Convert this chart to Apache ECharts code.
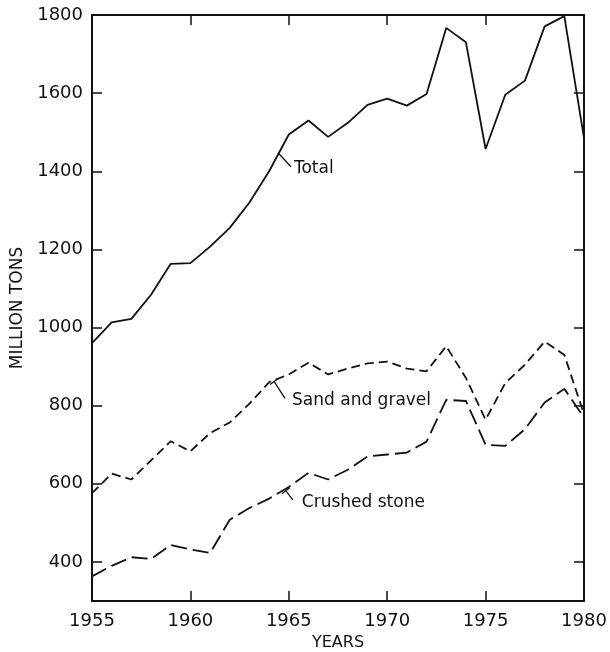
<!DOCTYPE html>
<html>
<head>
<meta charset="utf-8">
<script src="https://cdn.jsdelivr.net/npm/echarts@6/dist/echarts.min.js"></script>
<style>
    html,body{margin:0;padding:0;background:#fff;}
    #main{width:610px;height:652px;}
</style>
</head>
<body>
<div id="main"></div>
<script>
var years = [1955,1956,1957,1958,1959,1960,1961,1962,1963,1964,1965,1966,1967,
             1968,1969,1970,1971,1972,1973,1974,1975,1976,1977,1978,1979,1980];
var total = [960,1013,1022,1084,1163,1165,1207,1255,1320,1400,1494,1530,1488,
             1524,1570,1586,1568,1598,1767,1730,1457,1596,1632,1771,1797,1485];
var sandGravel = [576,626,611,660,709,683,730,757,805,860,880,910,880,
                  895,908,913,895,888,952,871,764,858,905,964,930,778];
var crushedStone = [363,390,412,408,443,432,423,508,538,562,592,628,611,
                    636,670,675,680,708,815,812,700,697,740,808,843,770];
var yTicks = [400,600,800,1000,1200,1400,1600,1800];

// callouts: name, anchor year, anchor value on its line
var calloutNames = ["Total","Sand and gravel","Crushed stone"];
var calloutYears = [1964.5,1964.25,1964.85];
var calloutValues = [1445,862,582];

var FONT = "DejaVu Sans";
var INK = "#111";

function pairs(arr){
    var out = [];
    for(var i=0;i<years.length;i++){ out.push([years[i],arr[i]]); }
    return out;
}

var mychart = echarts.init(document.getElementById("main"));

var xBase = {
    type:"value", min:1955, max:1980, interval:5,
    axisLine:{show:true, onZero:false, lineStyle:{color:INK, width:2}},
    axisTick:{show:true, inside:true, length:10, lineStyle:{color:INK, width:1.5}},
    splitLine:{show:false}
};
var yBase = {
    type:"value", min:300, max:1800,
    axisLine:{show:true, onZero:false, lineStyle:{color:INK, width:2}},
    axisTick:{show:true, inside:true, length:10, customValues:yTicks, lineStyle:{color:INK, width:1.5}},
    splitLine:{show:false}
};

mychart.setOption({
    animation:false,
    backgroundColor:"#fff",
    grid:{left:92, right:26, top:15, bottom:51, outerBoundsMode:"none", containLabel:false},
    xAxis:[
        Object.assign({}, xBase, {
            position:"bottom",
            name:"YEARS", nameLocation:"middle", nameGap:34,
            nameTextStyle:{fontFamily:FONT, fontSize:16, color:INK},
            axisLabel:{show:true, margin:11, fontFamily:FONT, fontSize:18, color:INK,
                formatter:function(v){ return String(v); }}
        }),
        Object.assign({}, xBase, {position:"top", axisLabel:{show:false}})
    ],
    yAxis:[
        Object.assign({}, yBase, {
            position:"left",
            name:"MILLION TONS", nameLocation:"middle", nameGap:56,
            nameTextStyle:{fontFamily:FONT, fontSize:17, color:INK},
            axisLabel:{show:true, margin:9, customValues:yTicks, fontFamily:FONT, fontSize:18, color:INK,
                formatter:function(v){ return String(v); }}
        }),
        Object.assign({}, yBase, {position:"right", axisLabel:{show:false}})
    ],
    series:[
        {
            name:"Total", type:"line", data:pairs(total),
            xAxisIndex:0, yAxisIndex:0, symbol:"none", silent:true,
            lineStyle:{color:INK, width:1.8}
        },
        {
            name:"Sand and gravel", type:"line", data:pairs(sandGravel),
            xAxisIndex:0, yAxisIndex:0, symbol:"none", silent:true,
            lineStyle:{color:INK, width:1.8, type:[9,5]}
        },
        {
            name:"Crushed stone", type:"line", data:pairs(crushedStone),
            xAxisIndex:0, yAxisIndex:0, symbol:"none", silent:true,
            lineStyle:{color:INK, width:1.8, type:[16,6]}
        }
    ]
});

// callout pointers and texts, placed from data coords
var pointerEnd = [[12,13],[11,17],[7,9]];
var textAt = [[15,15],[18,19],[16,12]];
var graphics = [];
for(var i=0;i<calloutNames.length;i++){
    var p = mychart.convertToPixel({seriesIndex:0}, [calloutYears[i], calloutValues[i]]);
    graphics.push({
        type:"line", silent:true,
        shape:{x1:p[0], y1:p[1], x2:p[0]+pointerEnd[i][0], y2:p[1]+pointerEnd[i][1]},
        style:{stroke:INK, lineWidth:1.3}
    });
    if(i>0){
        // little bar where the pointer meets a dashed line
        graphics.push({
            type:"line", silent:true,
            shape:{x1:p[0]-4, y1:p[1]+3, x2:p[0]+4, y2:p[1]-3},
            style:{stroke:INK, lineWidth:1.3}
        });
    }
    graphics.push({
        type:"text", silent:true,
        x:p[0]+textAt[i][0], y:p[1]+textAt[i][1],
        style:{text:calloutNames[i], font:"17px '"+FONT+"'", fill:INK,
               textAlign:"left", textVerticalAlign:"middle"}
    });
}
mychart.setOption({graphic:graphics});
</script>
</body>
</html>
